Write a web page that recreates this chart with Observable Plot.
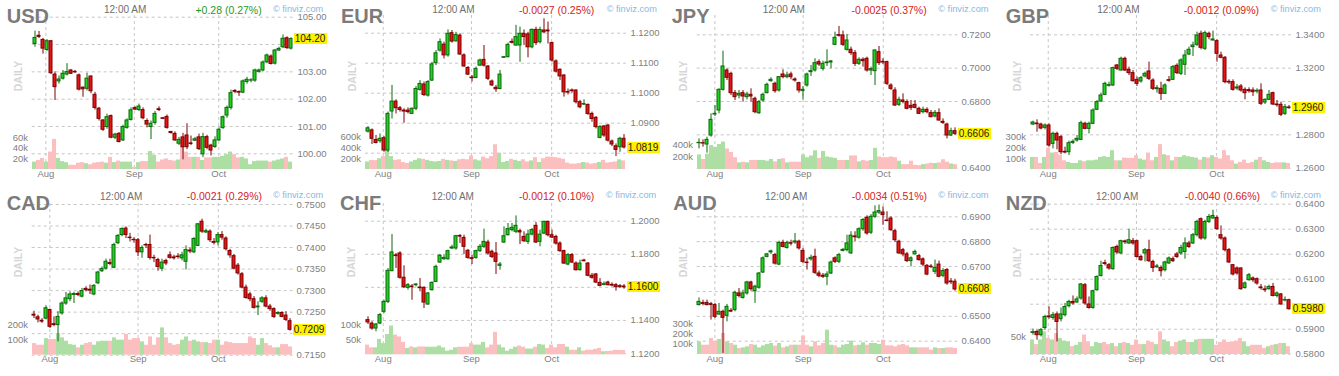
<!DOCTYPE html>
<html><head><meta charset="utf-8">
<script src="https://cdn.jsdelivr.net/npm/d3@7"></script>
<script src="https://cdn.jsdelivr.net/npm/@observablehq/plot@0.6"></script>
<style>
body{margin:0;background:#fff;font-family:Arial,"Liberation Sans",Helvetica,sans-serif;}
#root{position:relative;width:1339px;height:376px;overflow:hidden;background:#fff;}
.panel{position:absolute;width:335px;height:188px;}
.t{position:absolute;white-space:nowrap;}
</style></head><body><div id="root"></div>
<script>
// ---------------- data ----------------
const monthLabels = ["Aug", "Sep", "Oct"];
const usdMonths = [3, 25, 46];
const fxMonths = [4, 26, 46];

const usdOpen = [104.02,104.32,104.17,103.80,104.12,102.90,102.65,102.75,102.90,103.05,103.00,102.87,102.42,102.38,102.83,102.16,101.65,101.22,100.98,101.38,100.59,100.73,100.49,100.95,101.24,101.67,101.60,101.60,101.20,100.98,101.13,101.63,101.30,101.35,100.80,100.73,100.37,100.60,100.67,100.38,100.48,100.60,99.98,100.61,100.30,100.25,100.49,100.94,101.40,101.68,102.30,102.26,102.24,102.63,102.68,102.68,103.00,103.05,103.35,103.56,103.30,103.78,103.90,104.23,103.85];
const usdHigh = [104.49,104.48,104.22,104.18,104.15,103.00,102.85,103.05,103.30,103.08,103.05,102.92,102.45,102.95,102.85,102.25,101.70,101.25,101.45,101.42,100.75,100.78,101.05,101.28,101.68,101.72,101.82,101.68,101.28,101.20,101.55,101.72,101.33,101.42,100.82,100.80,100.60,100.75,101.10,100.65,100.60,100.72,100.75,100.68,100.35,100.62,100.95,101.38,101.75,102.33,102.35,102.30,102.70,102.80,102.75,103.10,103.10,103.40,103.65,103.62,103.82,103.90,104.35,104.28,104.25];
const usdLow = [103.90,104.22,103.65,103.75,102.90,101.95,102.55,102.70,102.85,102.90,102.95,102.30,102.07,102.30,102.20,101.60,101.20,100.82,100.90,100.55,100.52,100.40,100.45,100.90,101.20,101.58,101.55,101.25,100.95,100.52,101.05,101.55,101.25,100.90,100.72,100.45,100.30,99.78,100.15,100.30,100.45,100.12,99.86,100.15,99.92,100.20,100.45,100.90,101.30,101.60,102.20,102.10,102.20,102.55,102.60,102.62,102.95,103.00,103.30,103.25,103.25,103.75,103.85,103.82,103.80];
const usdClose = [104.24,104.28,103.85,104.12,102.95,102.44,102.72,102.93,102.99,102.93,102.98,102.35,102.36,102.75,102.29,101.68,101.28,100.88,101.34,100.59,100.70,100.43,100.98,101.22,101.59,101.62,101.73,101.30,101.07,101.10,101.46,101.60,101.28,100.95,100.76,100.49,100.51,100.24,100.24,100.36,100.53,100.17,100.61,100.22,100.12,100.49,100.88,101.34,101.68,102.22,102.27,102.24,102.65,102.71,102.69,103.05,103.05,103.34,103.60,103.29,103.78,103.84,104.21,103.87,104.20];
const usdVol = [14,17,21,14,33,57,21,15,13,8,8,12,13,11,9,12,13,14,12,23,13,16,14,14,14,4,13,15,15,34,27,14,18,20,17,16,18,52,33,23,23,23,17,22,22,23,23,25,28,33,28,22,23,20,9,15,16,16,16,14,16,18,20,23,14];
const usdTicks = [100, 101, 102, 103, 104, 105];
const usdVolTicks = [20, 40, 60];

const eurOpen = [1.0872,1.0876,1.0844,1.0840,1.0850,1.0809,1.0939,1.0972,1.0950,1.0942,1.0942,1.0931,1.0948,1.1011,1.1029,1.0992,1.1042,1.1100,1.1142,1.1162,1.1126,1.1200,1.1173,1.1192,1.1126,1.1084,1.1052,1.1051,1.1092,1.1111,1.1089,1.1039,1.1018,1.1014,1.1118,1.1120,1.1171,1.1159,1.1159,1.1198,1.1196,1.1153,1.1211,1.1170,1.1209,1.1209,1.1167,1.1106,1.1078,1.1059,1.1004,1.1009,1.1009,1.0970,1.0962,1.0961,1.0931,1.0918,1.0851,1.0889,1.0892,1.0839,1.0823,1.0820,1.0848];
const eurHigh = [1.0889,1.0881,1.0859,1.0864,1.0856,1.0937,1.1026,1.0978,1.0956,1.0948,1.0951,1.0951,1.1022,1.1042,1.1037,1.1042,1.1103,1.1142,1.1181,1.1170,1.1211,1.1209,1.1203,1.1198,1.1131,1.1089,1.1059,1.1087,1.1114,1.1159,1.1092,1.1044,1.1026,1.1076,1.1122,1.1167,1.1181,1.1226,1.1220,1.1211,1.1203,1.1214,1.1220,1.1220,1.1248,1.1237,1.1170,1.1111,1.1081,1.1062,1.1014,1.1014,1.1011,1.0976,1.0978,1.0964,1.0937,1.0922,1.0892,1.0892,1.0896,1.0844,1.0831,1.0853,1.0862];
const eurLow = [1.0867,1.0829,1.0831,1.0833,1.0803,1.0803,1.0914,1.0931,1.0937,1.0900,1.0931,1.0929,1.0942,1.1007,1.0989,1.0987,1.1039,1.1092,1.1137,1.1114,1.1120,1.1167,1.1170,1.1126,1.1087,1.1059,1.1037,1.1048,1.1089,1.1087,1.1042,1.1022,1.1003,1.1011,1.1116,1.1118,1.1164,1.1156,1.1103,1.1159,1.1118,1.1148,1.1159,1.1164,1.1198,1.1164,1.1103,1.1067,1.1042,1.0987,1.0994,1.1000,1.0964,1.0948,1.0959,1.0926,1.0903,1.0881,1.0848,1.0853,1.0837,1.0822,1.0789,1.0803,1.0814];
const eurClose = [1.0883,1.0848,1.0834,1.0848,1.0809,1.0931,1.0972,1.0950,1.0944,1.0939,1.0937,1.0948,1.1014,1.1031,1.0994,1.1037,1.1096,1.1133,1.1170,1.1126,1.1198,1.1172,1.1194,1.1129,1.1089,1.1062,1.1050,1.1081,1.1109,1.1092,1.1048,1.1026,1.1013,1.1062,1.1120,1.1161,1.1168,1.1187,1.1198,1.1187,1.1153,1.1211,1.1167,1.1211,1.1203,1.1206,1.1109,1.1072,1.1056,1.1003,1.1002,1.1007,1.0970,1.0953,1.0964,1.0931,1.0914,1.0887,1.0887,1.0859,1.0842,1.0829,1.0811,1.0848,1.0819];
const eurVol = [140,170,165,200,240,400,240,170,180,130,110,140,170,200,190,170,150,140,150,190,170,160,150,180,190,180,250,180,160,230,200,240,460,300,130,150,190,170,150,180,140,160,220,130,200,230,230,220,210,190,120,100,100,110,130,120,100,110,130,170,120,130,140,180,160];
const eurTicks = [1.08, 1.09, 1.10, 1.11, 1.12];
const eurVolTicks = [200, 400, 600];

const jpyOpen = [0.6550,0.6550,0.6542,0.6596,0.6722,0.6746,0.6870,0.6986,0.6966,0.6850,0.6836,0.6850,0.6826,0.6840,0.6816,0.6730,0.6806,0.6850,0.6922,0.6906,0.6866,0.6962,0.6946,0.6962,0.6932,0.6910,0.6862,0.6896,0.6976,0.6986,0.7036,0.6996,0.7030,0.7034,0.7140,0.7198,0.7196,0.7110,0.7110,0.7090,0.7026,0.7050,0.7056,0.6986,0.6982,0.7096,0.7038,0.7036,0.6896,0.6866,0.6780,0.6806,0.6796,0.6774,0.6780,0.6756,0.6736,0.6750,0.6730,0.6710,0.6730,0.6678,0.6662,0.6596,0.6622];
const jpyHigh = [0.6576,0.6570,0.6586,0.6726,0.6776,0.6876,0.7102,0.6996,0.6976,0.6866,0.6866,0.6866,0.6856,0.6876,0.6826,0.6806,0.6850,0.6910,0.6942,0.6916,0.6950,0.6990,0.6976,0.6976,0.6942,0.6916,0.6890,0.6970,0.7016,0.7056,0.7050,0.7042,0.7110,0.7046,0.7216,0.7250,0.7222,0.7202,0.7126,0.7106,0.7062,0.7062,0.7066,0.7006,0.7110,0.7130,0.7056,0.7042,0.6906,0.6882,0.6826,0.6846,0.6810,0.6806,0.6806,0.6766,0.6766,0.6762,0.6746,0.6746,0.6756,0.6696,0.6670,0.6640,0.6642];
const jpyLow = [0.6516,0.6526,0.6490,0.6586,0.6710,0.6726,0.6862,0.6926,0.6836,0.6806,0.6816,0.6796,0.6810,0.6796,0.6726,0.6722,0.6796,0.6846,0.6916,0.6850,0.6856,0.6936,0.6936,0.6930,0.6916,0.6850,0.6810,0.6886,0.6950,0.6976,0.7010,0.6982,0.7010,0.6996,0.7136,0.7186,0.7130,0.7102,0.7076,0.7010,0.7016,0.7006,0.6976,0.6956,0.6896,0.7016,0.7022,0.6896,0.6866,0.6770,0.6770,0.6786,0.6750,0.6746,0.6756,0.6722,0.6726,0.6726,0.6702,0.6702,0.6682,0.6662,0.6576,0.6590,0.6596];
const jpyClose = [0.6552,0.6548,0.6570,0.6690,0.6726,0.6870,0.7010,0.6942,0.6850,0.6826,0.6846,0.6830,0.6842,0.6830,0.6736,0.6796,0.6840,0.6900,0.6930,0.6862,0.6946,0.6946,0.6956,0.6946,0.6926,0.6866,0.6870,0.6962,0.6982,0.7030,0.7022,0.7026,0.7034,0.7040,0.7182,0.7194,0.7140,0.7166,0.7090,0.7026,0.7050,0.7042,0.6986,0.6994,0.7106,0.7030,0.7034,0.6906,0.6876,0.6776,0.6810,0.6798,0.6756,0.6762,0.6762,0.6726,0.6750,0.6736,0.6706,0.6732,0.6686,0.6672,0.6596,0.6622,0.6606];
const jpyVol = [233,161,245,384,356,400,439,328,272,189,106,117,106,145,145,145,145,133,161,122,161,172,106,117,117,117,233,189,217,300,178,289,200,189,178,145,145,145,217,217,122,145,133,145,339,200,189,189,200,189,133,78,78,133,67,61,78,89,100,95,106,156,117,89,78];
const jpyTicks = [0.64, 0.66, 0.68, 0.70, 0.72];
const jpyVolTicks = [200, 400];

const gbpOpen = [1.2862,1.2868,1.2862,1.2842,1.2856,1.2746,1.2806,1.2786,1.2698,1.2696,1.2752,1.2766,1.2770,1.2866,1.2836,1.2866,1.2950,1.3000,1.3040,1.3094,1.3096,1.3216,1.3186,1.3256,1.3190,1.3170,1.3130,1.3120,1.3150,1.3180,1.3126,1.3074,1.3076,1.3046,1.3128,1.3130,1.3214,1.3166,1.3220,1.3282,1.3326,1.3340,1.3406,1.3316,1.3406,1.3366,1.3362,1.3276,1.3262,1.3118,1.3116,1.3078,1.3090,1.3070,1.3068,1.3066,1.3060,1.3066,1.2994,1.3010,1.3050,1.2982,1.2980,1.2926,1.2964];
const gbpHigh = [1.2882,1.2890,1.2870,1.2866,1.2866,1.2816,1.2816,1.2796,1.2726,1.2762,1.2770,1.2796,1.2882,1.2876,1.2876,1.2956,1.3006,1.3050,1.3116,1.3116,1.3206,1.3222,1.3266,1.3266,1.3206,1.3186,1.3146,1.3150,1.3176,1.3236,1.3136,1.3096,1.3116,1.3106,1.3150,1.3216,1.3226,1.3256,1.3306,1.3326,1.3356,1.3416,1.3422,1.3422,1.3416,1.3422,1.3370,1.3296,1.3270,1.3130,1.3130,1.3102,1.3102,1.3082,1.3082,1.3082,1.3076,1.3106,1.3016,1.3066,1.3056,1.3006,1.2996,1.2982,1.2976];
const gbpLow = [1.2856,1.2816,1.2830,1.2830,1.2726,1.2716,1.2710,1.2682,1.2686,1.2676,1.2742,1.2756,1.2766,1.2830,1.2806,1.2862,1.2946,1.2996,1.3036,1.3086,1.3090,1.3186,1.3182,1.3180,1.3156,1.3116,1.3090,1.3110,1.3142,1.3126,1.3066,1.3050,1.3006,1.3042,1.3116,1.3126,1.3162,1.3156,1.3156,1.3276,1.3270,1.3330,1.3310,1.3306,1.3370,1.3362,1.3236,1.3256,1.3106,1.3102,1.3062,1.3066,1.3056,1.3010,1.3050,1.3030,1.3046,1.2976,1.2982,1.3006,1.2976,1.2966,1.2910,1.2916,1.2954];
const gbpClose = [1.2874,1.2864,1.2838,1.2856,1.2736,1.2806,1.2766,1.2696,1.2694,1.2750,1.2758,1.2776,1.2870,1.2836,1.2866,1.2946,1.2996,1.3036,1.3106,1.3098,1.3200,1.3196,1.3256,1.3186,1.3170,1.3122,1.3106,1.3140,1.3166,1.3136,1.3076,1.3080,1.3046,1.3096,1.3124,1.3206,1.3170,1.3246,1.3276,1.3310,1.3336,1.3396,1.3322,1.3410,1.3386,1.3372,1.3286,1.3262,1.3116,1.3114,1.3070,1.3084,1.3066,1.3050,1.3062,1.3056,1.3064,1.2986,1.3010,1.3040,1.2982,1.2978,1.2920,1.2966,1.2960];
const gbpVol = [112,112,56,112,197,153,159,134,81,66,56,56,81,72,81,81,87,112,119,112,175,81,81,106,103,103,128,97,87,153,81,112,231,137,128,81,112,112,128,119,112,106,87,112,106,128,112,97,175,128,81,50,66,87,56,66,87,112,81,66,56,62,62,62,56];
const gbpTicks = [1.26, 1.28, 1.30, 1.32, 1.34];
const gbpVolTicks = [100, 200, 300];

const cadOpen = [0.7244,0.7238,0.7230,0.7235,0.7255,0.7222,0.7220,0.7247,0.7270,0.7280,0.7290,0.7292,0.7286,0.7304,0.7302,0.7291,0.7317,0.7345,0.7351,0.7364,0.7353,0.7410,0.7429,0.7444,0.7423,0.7418,0.7417,0.7389,0.7406,0.7406,0.7376,0.7371,0.7351,0.7369,0.7382,0.7377,0.7379,0.7375,0.7367,0.7393,0.7389,0.7404,0.7460,0.7435,0.7437,0.7413,0.7412,0.7429,0.7421,0.7392,0.7380,0.7358,0.7338,0.7307,0.7291,0.7280,0.7261,0.7274,0.7282,0.7263,0.7257,0.7246,0.7248,0.7242,0.7229];
const cadHigh = [0.7252,0.7243,0.7235,0.7265,0.7257,0.7239,0.7251,0.7274,0.7296,0.7297,0.7296,0.7297,0.7305,0.7309,0.7313,0.7314,0.7345,0.7355,0.7373,0.7373,0.7410,0.7430,0.7446,0.7448,0.7433,0.7423,0.7421,0.7404,0.7410,0.7429,0.7382,0.7375,0.7373,0.7373,0.7390,0.7382,0.7386,0.7389,0.7404,0.7399,0.7423,0.7456,0.7466,0.7443,0.7441,0.7421,0.7435,0.7437,0.7425,0.7396,0.7384,0.7363,0.7342,0.7313,0.7296,0.7286,0.7274,0.7286,0.7288,0.7268,0.7260,0.7251,0.7251,0.7251,0.7235];
const cadLow = [0.7235,0.7225,0.7224,0.7232,0.7212,0.7216,0.7181,0.7243,0.7266,0.7274,0.7270,0.7286,0.7283,0.7297,0.7291,0.7288,0.7314,0.7342,0.7348,0.7358,0.7351,0.7407,0.7425,0.7421,0.7413,0.7410,0.7379,0.7375,0.7398,0.7371,0.7365,0.7345,0.7344,0.7358,0.7373,0.7371,0.7373,0.7369,0.7348,0.7386,0.7386,0.7402,0.7433,0.7433,0.7412,0.7406,0.7404,0.7417,0.7392,0.7375,0.7348,0.7336,0.7304,0.7280,0.7274,0.7257,0.7242,0.7270,0.7260,0.7252,0.7235,0.7243,0.7237,0.7228,0.7206];
const cadClose = [0.7242,0.7233,0.7228,0.7259,0.7216,0.7220,0.7239,0.7270,0.7282,0.7291,0.7292,0.7290,0.7299,0.7301,0.7300,0.7311,0.7342,0.7350,0.7367,0.7362,0.7406,0.7427,0.7443,0.7429,0.7422,0.7417,0.7389,0.7399,0.7405,0.7376,0.7375,0.7355,0.7365,0.7363,0.7376,0.7375,0.7378,0.7382,0.7394,0.7391,0.7420,0.7454,0.7437,0.7438,0.7417,0.7411,0.7429,0.7423,0.7396,0.7382,0.7351,0.7340,0.7307,0.7283,0.7280,0.7260,0.7263,0.7282,0.7263,0.7257,0.7239,0.7248,0.7239,0.7232,0.7209];
const cadVol = [76,65,65,108,102,102,141,113,91,69,65,48,65,76,82,65,87,91,91,91,113,98,98,135,98,108,108,87,65,119,65,113,178,113,76,65,69,98,119,91,98,87,82,82,76,98,98,65,87,82,76,76,76,76,119,108,65,108,76,61,48,48,69,69,54];
const cadTicks = [0.715, 0.720, 0.725, 0.730, 0.735, 0.740, 0.745, 0.750];
const cadVolTicks = [100, 200];

const chfOpen = [1.1402,1.1381,1.1351,1.1381,1.1452,1.1512,1.1698,1.1793,1.1805,1.1658,1.1597,1.1605,1.1613,1.1599,1.1597,1.1496,1.1583,1.1633,1.1750,1.1770,1.1770,1.1835,1.1835,1.1911,1.1899,1.1821,1.1776,1.1778,1.1819,1.1845,1.1871,1.1815,1.1805,1.1730,1.1871,1.1915,1.1946,1.1936,1.1940,1.1905,1.1875,1.1919,1.1972,1.1875,1.1925,1.1996,1.1915,1.1905,1.1865,1.1819,1.1738,1.1795,1.1744,1.1704,1.1762,1.1744,1.1670,1.1678,1.1627,1.1615,1.1629,1.1615,1.1613,1.1607,1.1605];
const chfHigh = [1.1422,1.1392,1.1381,1.1442,1.1522,1.1714,1.1919,1.1805,1.1815,1.1730,1.1623,1.1617,1.1623,1.1653,1.1603,1.1569,1.1633,1.1734,1.1799,1.1795,1.1825,1.1855,1.1915,1.1919,1.1915,1.1829,1.1795,1.1825,1.1859,1.1952,1.1885,1.1825,1.1871,1.1750,1.1966,1.1986,1.1986,1.2032,1.1952,1.1936,1.1946,1.1956,1.1992,1.1946,1.2000,1.2000,1.1946,1.1915,1.1875,1.1825,1.1805,1.1805,1.1754,1.1764,1.1770,1.1750,1.1684,1.1684,1.1653,1.1633,1.1637,1.1627,1.1623,1.1617,1.1617];
const chfLow = [1.1375,1.1341,1.1331,1.1375,1.1442,1.1502,1.1694,1.1714,1.1649,1.1593,1.1583,1.1522,1.1603,1.1573,1.1472,1.1492,1.1577,1.1629,1.1744,1.1764,1.1764,1.1829,1.1825,1.1865,1.1799,1.1770,1.1738,1.1770,1.1811,1.1835,1.1795,1.1774,1.1678,1.1704,1.1865,1.1911,1.1936,1.1925,1.1859,1.1871,1.1859,1.1911,1.1865,1.1845,1.1919,1.1905,1.1895,1.1855,1.1811,1.1738,1.1730,1.1744,1.1698,1.1698,1.1754,1.1664,1.1649,1.1623,1.1603,1.1609,1.1609,1.1603,1.1577,1.1593,1.1589];
const chfClose = [1.1388,1.1351,1.1375,1.1432,1.1512,1.1700,1.1811,1.1789,1.1658,1.1601,1.1613,1.1601,1.1617,1.1595,1.1508,1.1563,1.1627,1.1724,1.1791,1.1778,1.1819,1.1841,1.1909,1.1907,1.1845,1.1778,1.1772,1.1819,1.1845,1.1875,1.1805,1.1784,1.1754,1.1738,1.1909,1.1952,1.1960,1.1972,1.1932,1.1879,1.1919,1.1946,1.1871,1.1919,1.1996,1.1915,1.1901,1.1865,1.1819,1.1744,1.1795,1.1750,1.1704,1.1744,1.1758,1.1670,1.1658,1.1629,1.1609,1.1619,1.1613,1.1611,1.1601,1.1603,1.1600];
const chfVol = [32,23,23,51,37,67,95,65,59,41,21,26,23,26,26,25,25,25,29,23,12,15,23,25,25,25,37,32,32,41,23,32,74,32,23,12,18,25,29,25,19,19,25,34,32,21,32,23,34,34,25,15,15,23,12,15,15,18,21,10,11,12,15,14,14];
const chfTicks = [1.12, 1.14, 1.16, 1.18, 1.20];
const chfVolTicks = [50, 100];

const audOpen = [0.6545,0.6553,0.6554,0.6549,0.6545,0.6507,0.6518,0.6502,0.6522,0.6525,0.6592,0.6574,0.6592,0.6636,0.6601,0.6615,0.6676,0.6739,0.6757,0.6746,0.6708,0.6795,0.6775,0.6794,0.6797,0.6800,0.6763,0.6716,0.6729,0.6739,0.6672,0.6663,0.6659,0.6672,0.6733,0.6719,0.6763,0.6766,0.6753,0.6821,0.6816,0.6850,0.6896,0.6836,0.6900,0.6917,0.6917,0.6885,0.6893,0.6842,0.6800,0.6766,0.6749,0.6722,0.6749,0.6742,0.6729,0.6703,0.6700,0.6679,0.6708,0.6663,0.6686,0.6640,0.6639];
const audHigh = [0.6574,0.6565,0.6565,0.6556,0.6552,0.6552,0.6525,0.6548,0.6531,0.6601,0.6612,0.6605,0.6641,0.6641,0.6625,0.6676,0.6739,0.6753,0.6766,0.6753,0.6802,0.6806,0.6802,0.6806,0.6833,0.6806,0.6773,0.6733,0.6746,0.6770,0.6682,0.6672,0.6679,0.6722,0.6739,0.6753,0.6773,0.6826,0.6840,0.6840,0.6856,0.6893,0.6904,0.6909,0.6944,0.6947,0.6940,0.6920,0.6900,0.6850,0.6806,0.6773,0.6757,0.6739,0.6766,0.6749,0.6735,0.6708,0.6708,0.6726,0.6722,0.6692,0.6692,0.6652,0.6649];
const audLow = [0.6542,0.6542,0.6542,0.6485,0.6491,0.6505,0.6351,0.6478,0.6515,0.6518,0.6574,0.6569,0.6585,0.6601,0.6552,0.6609,0.6672,0.6735,0.6749,0.6706,0.6703,0.6775,0.6770,0.6783,0.6789,0.6766,0.6712,0.6686,0.6722,0.6668,0.6655,0.6652,0.6623,0.6668,0.6712,0.6712,0.6759,0.6759,0.6749,0.6800,0.6810,0.6842,0.6826,0.6829,0.6893,0.6909,0.6866,0.6880,0.6842,0.6797,0.6749,0.6739,0.6716,0.6699,0.6746,0.6722,0.6699,0.6663,0.6692,0.6668,0.6655,0.6655,0.6625,0.6628,0.6601];
const audClose = [0.6558,0.6550,0.6545,0.6546,0.6498,0.6518,0.6494,0.6538,0.6519,0.6594,0.6582,0.6592,0.6636,0.6609,0.6619,0.6672,0.6733,0.6749,0.6761,0.6712,0.6795,0.6779,0.6795,0.6792,0.6801,0.6773,0.6719,0.6714,0.6735,0.6675,0.6663,0.6659,0.6668,0.6716,0.6719,0.6746,0.6767,0.6793,0.6824,0.6818,0.6850,0.6887,0.6833,0.6900,0.6917,0.6923,0.6907,0.6883,0.6846,0.6806,0.6753,0.6749,0.6722,0.6733,0.6759,0.6726,0.6708,0.6668,0.6698,0.6695,0.6659,0.6682,0.6632,0.6637,0.6608];
const audVol = [125,92,92,158,132,149,208,125,109,92,59,66,76,99,92,66,86,99,109,83,109,66,76,92,92,92,182,92,76,125,86,109,241,92,86,66,92,99,132,86,92,116,92,109,109,99,142,86,86,76,92,99,86,66,66,66,66,66,43,66,59,59,66,66,59];
const audTicks = [0.64, 0.65, 0.66, 0.67, 0.68, 0.69];
const audVolTicks = [100, 200, 300];

const nzdOpen = [0.5885,0.5889,0.5876,0.5905,0.5951,0.5945,0.5959,0.5940,0.5956,0.5992,0.6009,0.6007,0.6023,0.6076,0.5999,0.5985,0.6056,0.6113,0.6164,0.6156,0.6140,0.6229,0.6203,0.6251,0.6243,0.6252,0.6252,0.6189,0.6203,0.6216,0.6169,0.6148,0.6145,0.6136,0.6163,0.6180,0.6199,0.6203,0.6209,0.6243,0.6243,0.6276,0.6340,0.6263,0.6329,0.6343,0.6345,0.6276,0.6263,0.6216,0.6156,0.6143,0.6143,0.6065,0.6096,0.6103,0.6100,0.6067,0.6059,0.6060,0.6069,0.6033,0.6039,0.6015,0.6016];
const nzdHigh = [0.5900,0.5896,0.5903,0.5956,0.5989,0.5967,0.5969,0.5985,0.6003,0.6016,0.6033,0.6029,0.6083,0.6083,0.6029,0.6056,0.6113,0.6172,0.6176,0.6163,0.6229,0.6236,0.6256,0.6256,0.6300,0.6263,0.6256,0.6196,0.6223,0.6256,0.6176,0.6159,0.6153,0.6172,0.6189,0.6189,0.6207,0.6236,0.6265,0.6252,0.6283,0.6336,0.6345,0.6336,0.6359,0.6376,0.6353,0.6313,0.6269,0.6223,0.6159,0.6149,0.6145,0.6089,0.6123,0.6109,0.6105,0.6079,0.6073,0.6076,0.6083,0.6049,0.6043,0.6029,0.6020];
const nzdLow = [0.5876,0.5856,0.5869,0.5896,0.5940,0.5936,0.5849,0.5929,0.5949,0.5985,0.5996,0.6003,0.6016,0.5996,0.5980,0.5980,0.6052,0.6109,0.6153,0.6136,0.6136,0.6199,0.6199,0.6239,0.6239,0.6236,0.6185,0.6172,0.6169,0.6167,0.6127,0.6143,0.6109,0.6129,0.6159,0.6167,0.6183,0.6196,0.6180,0.6223,0.6239,0.6269,0.6256,0.6256,0.6323,0.6340,0.6296,0.6256,0.6209,0.6163,0.6113,0.6116,0.6056,0.6060,0.6092,0.6087,0.6076,0.6056,0.6047,0.6056,0.6029,0.6025,0.5996,0.6009,0.5976];
const nzdClose = [0.5888,0.5876,0.5896,0.5949,0.5948,0.5956,0.5929,0.5959,0.5989,0.6009,0.6003,0.6019,0.6079,0.6003,0.5985,0.6052,0.6109,0.6153,0.6161,0.6143,0.6225,0.6207,0.6252,0.6248,0.6256,0.6243,0.6189,0.6176,0.6216,0.6172,0.6145,0.6151,0.6132,0.6167,0.6183,0.6172,0.6189,0.6225,0.6243,0.6229,0.6276,0.6329,0.6263,0.6329,0.6349,0.6353,0.6300,0.6263,0.6216,0.6167,0.6119,0.6123,0.6060,0.6083,0.6116,0.6096,0.6083,0.6064,0.6056,0.6069,0.6033,0.6043,0.5999,0.6017,0.5980];
const nzdVol = [41,28,41,64,45,41,59,45,38,36,22,26,34,55,36,22,34,31,34,28,31,22,31,34,31,26,41,28,28,38,34,28,64,41,36,22,34,38,41,34,34,41,43,43,43,43,26,34,41,34,36,38,45,36,22,26,26,26,17,22,26,28,31,31,22];
const nzdTicks = [0.58, 0.59, 0.60, 0.61, 0.62, 0.63, 0.64];
const nzdVolTicks = [50];

const symbols = ["USD", "EUR", "JPY", "GBP", "CAD", "CHF", "AUD", "NZD"];
const changes = ["+0.28 (0.27%)", "-0.0027 (0.25%)", "-0.0025 (0.37%)", "-0.0012 (0.09%)", "-0.0021 (0.29%)", "-0.0012 (0.10%)", "-0.0034 (0.51%)", "-0.0040 (0.66%)"];
const timeLabel = "12:00 AM";

// ---------------- layout (positions & styles) ----------------
const FONT = 'Arial, "Liberation Sans", Helvetica, sans-serif';
const GRID = "#c6c6c6", LABEL = "#808080";
const UPF = "#22cf22", UPD = "#0a680a", DNF = "#e21616", DND = "#7c0000";
const VUP = "#addfa5", VDN = "#fcbfbf";
const ROW = [
  {sym: 23.2, time: 13.3, chg: 13.6, fv: 12.3, month: 176, daily: 75.5},
  {sym: 21.7, time: 12.0, chg: 11.8, fv: 10.8, month: 173.3, daily: 74}
];
const panels = [
  {open: usdOpen, high: usdHigh, low: usdLow, close: usdClose, vol: usdVol, ticks: usdTicks, volTicks: usdVolTicks, months: usdMonths, fmt: 2,
   ox: 0, oy: 0, row: 0, x0: 33.3, x1: 290.6, yA: [105, 16.7], yB: [100, 153.3], base: 169, vTop: [60, 137.3], symX: 6.7, timeX: 104, chgR: 261.7, fvX: 273, dailyX: 18.3},
  {open: eurOpen, high: eurHigh, low: eurLow, close: eurClose, vol: eurVol, ticks: eurTicks, volTicks: eurVolTicks, months: fxMonths, fmt: 4,
   ox: 335, oy: 0, row: 0, x0: 31.7, x1: 288.3, yA: [1.12, 32.7], yB: [1.08, 152.7], base: 169, vTop: [600, 136.7], symX: 6, timeX: 97.3, chgR: 259.3, fvX: 271.7, dailyX: 16.7},
  {open: jpyOpen, high: jpyHigh, low: jpyLow, close: jpyClose, vol: jpyVol, ticks: jpyTicks, volTicks: jpyVolTicks, months: fxMonths, fmt: 4,
   ox: 670, oy: 0, row: 0, x0: 28.3, x1: 285, yA: [0.72, 34.3], yB: [0.64, 167.7], base: 169, vTop: [400, 144], symX: 1.7, timeX: 92.7, chgR: 256.7, fvX: 268.3, dailyX: 13.3},
  {open: gbpOpen, high: gbpHigh, low: gbpLow, close: gbpClose, vol: gbpVol, ticks: gbpTicks, volTicks: gbpVolTicks, months: fxMonths, fmt: 4,
   ox: 1004, oy: 0, row: 0, x0: 27.7, x1: 284.3, yA: [1.34, 34.3], yB: [1.26, 167.7], base: 169, vTop: [300, 136.7], symX: 1.7, timeX: 93.3, chgR: 255, fvX: 266.7, dailyX: 12.7},
  {open: cadOpen, high: cadHigh, low: cadLow, close: cadClose, vol: cadVol, ticks: cadTicks, volTicks: cadVolTicks, months: fxMonths, fmt: 4,
   ox: 0, oy: 188, row: 1, x0: 33.3, x1: 290, yA: [0.75, 16], yB: [0.715, 166.7], base: 166.7, vTop: [200, 136], symX: 6.7, timeX: 100, chgR: 262, fvX: 273, dailyX: 18.3},
  {open: chfOpen, high: chfHigh, low: chfLow, close: chfClose, vol: chfVol, ticks: chfTicks, volTicks: chfVolTicks, months: fxMonths, fmt: 4,
   ox: 335, oy: 188, row: 1, x0: 31.7, x1: 288.3, yA: [1.20, 32.7], yB: [1.12, 165], base: 166.3, vTop: [100, 136], symX: 5, timeX: 96.7, chgR: 259.3, fvX: 271, dailyX: 16},
  {open: audOpen, high: audHigh, low: audLow, close: audClose, vol: audVol, ticks: audTicks, volTicks: audVolTicks, months: fxMonths, fmt: 4,
   ox: 670, oy: 188, row: 1, x0: 28.3, x1: 285, yA: [0.69, 28.3], yB: [0.64, 152.7], base: 166, vTop: [300, 135.7], symX: 3.3, timeX: 95, chgR: 257, fvX: 268.3, dailyX: 13.3},
  {open: nzdOpen, high: nzdHigh, low: nzdLow, close: nzdClose, vol: nzdVol, ticks: nzdTicks, volTicks: nzdVolTicks, months: fxMonths, fmt: 4,
   ox: 1004, oy: 188, row: 1, x0: 27.7, x1: 284.3, yA: [0.64, 15.7], yB: [0.58, 165.7], base: 166, vTop: [50, 148.3], symX: 1.7, timeX: 92, chgR: 256, fvX: 266.7, dailyX: 12.7}
];

const W = 335, H = 188;
const root = document.getElementById("root");

function addText(parent, text, o) {
  const el = document.createElement("div");
  el.className = "t";
  el.textContent = text;
  el.style.fontSize = o.fs + "px";
  el.style.lineHeight = o.fs + "px";
  el.style.top = (o.base - 0.8465 * o.fs) + "px";
  if (o.left != null) el.style.left = o.left + "px";
  if (o.right != null) el.style.right = (W - o.right) + "px";
  el.style.color = o.color;
  if (o.weight) el.style.fontWeight = o.weight;
  parent.appendChild(el);
  return el;
}

function placeSvg(svg, panel) {
  svg.style.position = "absolute";
  svg.style.left = "0px";
  svg.style.top = "0px";
  svg.style.background = "transparent";
  svg.style.overflow = "visible";
  svg.style.maxWidth = "none";
  panel.appendChild(svg);
}

panels.forEach((p, k) => {
  const r = ROW[p.row];
  const n = p.close.length;
  const idx = d3.range(n);
  const last = p.close[n - 1];
  const rows = idx.map(i => ({i, o: p.open[i], h: p.high[i], l: p.low[i], c: p.close[i], v: p.vol[i]}));
  const up = rows.filter(d => d.c >= d.o), dn = rows.filter(d => d.c < d.o);
  const step = (p.x1 - p.x0) / (n - 1);
  const band = pad => ({type: "band", domain: idx, range: [p.x0 - step / 2, p.x1 + step / 2],
                        paddingInner: pad, paddingOuter: pad / 2, align: 0.5, axis: null});
  const yP = {type: "linear", domain: [p.yB[0], p.yA[0]], range: [p.yB[1], p.yA[1]], zero: false, axis: null};
  const pxPerUnit = (p.yB[1] - p.yA[1]) / (p.yA[0] - p.yB[0]);
  // tick labels that the last-price box covers are hidden, as in the reference
  const shownTicks = p.ticks.filter(t => Math.abs(t - last) * pxPerUnit >= 7.5);
  const common = {width: W, height: H, marginTop: 15, marginBottom: H - p.base, marginLeft: 0, marginRight: 0,
                  style: {background: "transparent", overflow: "visible", fontFamily: FONT}};

  const panel = document.createElement("div");
  panel.className = "panel";
  panel.style.left = p.ox + "px";
  panel.style.top = p.oy + "px";
  root.appendChild(panel);

  // layer 1: grid + month labels
  const grid = Plot.plot({...common,
    x: {type: "linear", domain: [0, n - 1], range: [p.x0, p.x1], axis: null},
    y: yP,
    marks: [
      Plot.ruleY(p.ticks, {y: d => d, x1: 0, x2: n - 1, insetLeft: -1.6, insetRight: -2.6, stroke: GRID, strokeDasharray: "3,3"}),
      Plot.ruleX(p.months, {x: d => d, stroke: GRID, strokeDasharray: "3,3"}),
      Plot.text(p.months, {x: d => d, frameAnchor: "bottom", dy: r.month - p.base, text: (d, i) => monthLabels[i], fill: LABEL, fontSize: 9.5})
    ]});
  placeSvg(grid, panel);

  // layer 2: volume
  const volPlot = Plot.plot({...common,
    x: band(0),
    y: {type: "linear", domain: [0, p.vTop[0]], range: [p.base, p.vTop[1]], axis: null},
    marks: [
      Plot.barY(up, {x: "i", y: "v", fill: VUP}),
      Plot.barY(dn, {x: "i", y: "v", fill: VDN}),
      Plot.text(p.volTicks, {x: () => 0, y: d => d, dx: -6.5, textAnchor: "end", text: d => d + "k", fill: LABEL, fontSize: 9.5})
    ]});
  placeSvg(volPlot, panel);

  // layer 3: candles + price labels
  const cand = Plot.plot({...common,
    x: band(0.3),
    y: yP,
    marks: [
      Plot.ruleX(up, {x: "i", y1: "l", y2: "h", stroke: UPD}),
      Plot.ruleX(dn, {x: "i", y1: "l", y2: "h", stroke: DND}),
      Plot.barY(up, {x: "i", y1: "o", y2: "c", fill: UPF, stroke: UPD, strokeWidth: 1}),
      Plot.barY(dn, {x: "i", y1: "o", y2: "c", fill: DNF, stroke: DND, strokeWidth: 1}),
      Plot.text(shownTicks, {x: () => n - 1, y: d => d, dx: 6.4, textAnchor: "start", text: d => d.toFixed(p.fmt), fill: LABEL, fontSize: 9.5})
    ]});
  placeSvg(cand, panel);

  // header texts
  addText(panel, symbols[k], {left: p.symX, base: r.sym, fs: 20, weight: "bold", color: "#7b7b7b"});
  addText(panel, timeLabel, {left: p.timeX, base: r.time, fs: 10, color: "#6e6e6e"});
  addText(panel, changes[k], {right: p.chgR, base: r.chg, fs: 10.5, color: changes[k].startsWith("+") ? "#1f9a1f" : "#d42222"});
  addText(panel, "\u00a9 finviz.com", {left: p.fvX, base: r.fv, fs: 9.2, color: "#86b9e3"});

  const daily = document.createElement("div");
  daily.className = "t";
  daily.textContent = "DAILY";
  Object.assign(daily.style, {left: p.dailyX + "px", top: r.daily + "px", fontSize: "10.5px", lineHeight: "11px",
    fontWeight: "bold", color: "#d6d6d6", transform: "translate(-50%,-50%) rotate(-90deg)"});
  panel.appendChild(daily);

  // last price highlight, positioned with the plot's own scales
  const xs = cand.scale("x"), ys = cand.scale("y");
  const cx = xs.apply(n - 1) + xs.bandwidth / 2;
  const cy = ys.apply(last);
  const box = document.createElement("div");
  box.className = "t";
  box.textContent = last.toFixed(p.fmt);
  Object.assign(box.style, {left: (cx + 3) + "px", top: (cy - 5.5) + "px", width: "33px", height: "11px",
    lineHeight: "11px", fontSize: "10px", textAlign: "center", background: "#fff200", color: "#1a1a1a"});
  panel.appendChild(box);
});
</script>
</body></html>
